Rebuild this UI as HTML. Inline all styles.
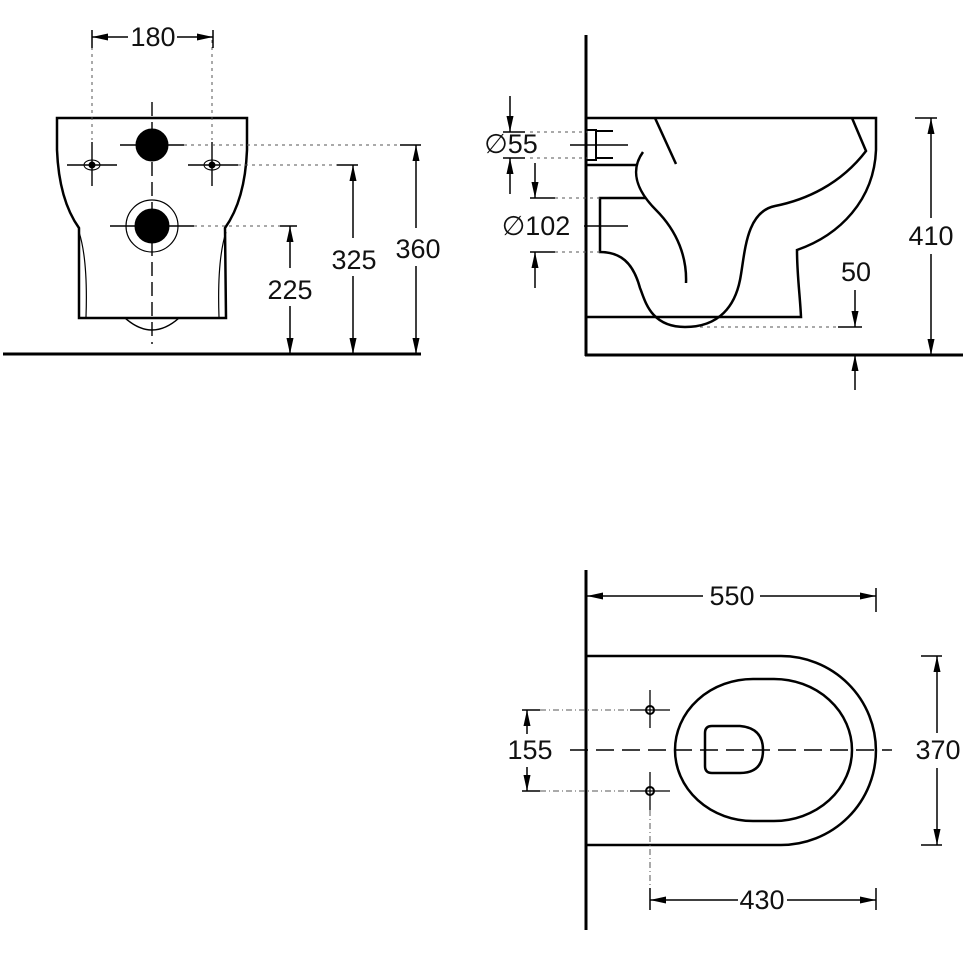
<!DOCTYPE html>
<html><head><meta charset="utf-8"><style>
html,body{margin:0;padding:0;background:#fff;}
svg{display:block;}
text{font-family:"Liberation Sans",sans-serif;font-size:27px;fill:#111;}
</style></head><body>
<svg width="967" height="967" viewBox="0 0 967 967" xmlns="http://www.w3.org/2000/svg">
<defs>
<marker id="a" viewBox="0 0 10 10" refX="10" refY="5" markerWidth="16" markerHeight="16" markerUnits="userSpaceOnUse" orient="auto-start-reverse"><path d="M0,2.8 L10,5 L0,7.2 Z" fill="#000"/></marker>
</defs>
<g fill="none" stroke="#000">
<!-- FRONT VIEW -->
<line x1="3" y1="354" x2="421" y2="354" stroke-width="3"/>
<path d="M57,118 L247,118 L247,150 Q245,200 225,228 L226,318 L79,318 L79,228 Q59,200 57,150 Z" stroke-width="2.5"/>
<path d="M79,232 Q88,260 86,317 M226,232 Q217,260 219,317" stroke-width="1.2"/>
<path d="M125,318 Q152,342 179,318" stroke-width="1.5"/>
<circle cx="152" cy="145" r="16" fill="#000"/>
<circle cx="152" cy="226" r="26" stroke-width="1.2"/>
<circle cx="152" cy="226" r="17" fill="#000"/>
<ellipse cx="92" cy="165" rx="8" ry="5" stroke-width="1"/>
<ellipse cx="212" cy="165" rx="8" ry="5" stroke-width="1"/>
<circle cx="92" cy="165" r="3" fill="#000"/>
<circle cx="212" cy="165" r="3" fill="#000"/>
<g stroke-width="1.4">
<line x1="120" y1="145" x2="184" y2="145"/>
<line x1="67" y1="165" x2="117" y2="165"/>
<line x1="188" y1="165" x2="238" y2="165"/>
<line x1="92" y1="142" x2="92" y2="186"/>
<line x1="212" y1="142" x2="212" y2="186"/>
<line x1="110" y1="226" x2="194" y2="226"/>
<line x1="152" y1="102" x2="152" y2="344" stroke-dasharray="14,6"/>
</g>
<g stroke-width="1" stroke-dasharray="3,4" stroke="#555">
<line x1="92" y1="40" x2="92" y2="140"/>
<line x1="212" y1="40" x2="212" y2="140"/>
<line x1="184" y1="145" x2="410" y2="145"/>
<line x1="238" y1="165" x2="345" y2="165"/>
<line x1="194" y1="226" x2="285" y2="226"/>
</g>
<g stroke-width="1.5">
<line x1="92" y1="30" x2="92" y2="48"/><line x1="213" y1="30" x2="213" y2="48"/>
<line x1="92" y1="37" x2="128" y2="37" marker-start="url(#a)"/>
<line x1="177" y1="37" x2="213" y2="37" marker-end="url(#a)"/>
<line x1="280" y1="226" x2="297" y2="226"/>
<line x1="290" y1="226" x2="290" y2="268" marker-start="url(#a)"/>
<line x1="290" y1="306" x2="290" y2="354" marker-end="url(#a)"/>
<line x1="337" y1="165" x2="358" y2="165"/>
<line x1="353" y1="165" x2="353" y2="238" marker-start="url(#a)"/>
<line x1="353" y1="276" x2="353" y2="354" marker-end="url(#a)"/>
<line x1="400" y1="145" x2="421" y2="145"/>
<line x1="416" y1="145" x2="416" y2="228" marker-start="url(#a)"/>
<line x1="416" y1="266" x2="416" y2="354" marker-end="url(#a)"/>
</g>
<!-- SIDE VIEW -->
<line x1="586" y1="35" x2="586" y2="356" stroke-width="3"/>
<line x1="585" y1="355" x2="963" y2="355" stroke-width="3"/>
<path d="M587,118 L876,118 L876,150 C874,200 840,235 797,250 C797,275 800,295 801,317 L587,317" stroke-width="2.5"/>
<path d="M852,118 L866,151 C840,185 805,200 775,206 C745,212 745,255 740,280 C735,305 720,327 685,327 C650,327 645,300 640,288 C633,262 620,252 600,252 L600,198 L645,198" stroke-width="2.5"/>
<path d="M643,152 C630,170 636,190 656,210 C678,232 687,258 686,283" stroke-width="2.5"/>
<path d="M587,165 L636,165" stroke-width="2.5"/>
<path d="M655,118 L676,164" stroke-width="2.5"/>
<path d="M587,130 L596,130 L596,160 L587,160" stroke-width="2"/>
<path d="M596,131 L613,131 M596,158 L613,158" stroke-width="2"/>
<g stroke-width="1.4">
<line x1="570" y1="145" x2="628" y2="145"/>
<line x1="584" y1="226" x2="628" y2="226"/>
</g>
<g stroke-width="1" stroke-dasharray="3,4" stroke="#555">
<line x1="530" y1="132" x2="587" y2="132"/>
<line x1="530" y1="158" x2="587" y2="158"/>
<line x1="555" y1="198" x2="600" y2="198"/>
<line x1="555" y1="252" x2="600" y2="252"/>
<line x1="700" y1="327" x2="840" y2="327"/>
</g>
<g stroke-width="1.5">
<line x1="503" y1="132" x2="525" y2="132"/><line x1="503" y1="158" x2="525" y2="158"/>
<line x1="510" y1="96" x2="510" y2="132" marker-end="url(#a)"/>
<line x1="510" y1="194" x2="510" y2="158" marker-end="url(#a)"/>
<line x1="530" y1="198" x2="555" y2="198"/><line x1="530" y1="252" x2="555" y2="252"/>
<line x1="535" y1="163" x2="535" y2="198" marker-end="url(#a)"/>
<line x1="535" y1="288" x2="535" y2="252" marker-end="url(#a)"/>
<line x1="838" y1="327" x2="862" y2="327"/>
<line x1="855" y1="290" x2="855" y2="327" marker-end="url(#a)"/>
<line x1="855" y1="390" x2="855" y2="355" marker-end="url(#a)"/>
<line x1="915" y1="118" x2="937" y2="118"/>
<line x1="931" y1="118" x2="931" y2="218" marker-start="url(#a)"/>
<line x1="931" y1="254" x2="931" y2="355" marker-end="url(#a)"/>
</g>
<!-- TOP VIEW -->
<line x1="586" y1="570" x2="586" y2="930" stroke-width="3"/>
<path d="M587,656 L781,656 A95,94.5 0 0 1 781,845 L587,845" stroke-width="2.5"/>
<rect x="675" y="679" width="177" height="142" rx="78" ry="71" stroke-width="2.5"/>
<path d="M712,726 L740,726 Q763,728 763,750 Q763,773 740,773 L712,773 Q705,773 705,766 L705,733 Q705,726 712,726 Z" stroke-width="2.5"/>
<line x1="570" y1="750" x2="892" y2="750" stroke-width="1.4" stroke-dasharray="18,8"/>
<circle cx="650" cy="710" r="4" stroke-width="2"/>
<circle cx="650" cy="791" r="4" stroke-width="2"/>
<g stroke-width="1.3">
<line x1="630" y1="710" x2="670" y2="710"/><line x1="650" y1="690" x2="650" y2="728"/>
<line x1="630" y1="791" x2="670" y2="791"/><line x1="650" y1="772" x2="650" y2="810"/>
</g>
<g stroke-width="1" stroke-dasharray="6,3,1,3" stroke="#555">
<line x1="527" y1="710" x2="630" y2="710"/>
<line x1="527" y1="791" x2="630" y2="791"/>
<line x1="650" y1="810" x2="650" y2="895"/>
</g>
<g stroke-width="1.5">
<line x1="522" y1="710" x2="540" y2="710"/><line x1="522" y1="791" x2="540" y2="791"/>
<line x1="527" y1="710" x2="527" y2="734" marker-start="url(#a)"/>
<line x1="527" y1="767" x2="527" y2="791" marker-end="url(#a)"/>
<line x1="921" y1="656" x2="942" y2="656"/><line x1="921" y1="845" x2="942" y2="845"/>
<line x1="937" y1="656" x2="937" y2="733" marker-start="url(#a)"/>
<line x1="937" y1="768" x2="937" y2="845" marker-end="url(#a)"/>
<line x1="876" y1="588" x2="876" y2="612"/>
<line x1="587" y1="596" x2="703" y2="596" marker-start="url(#a)"/>
<line x1="760" y1="596" x2="876" y2="596" marker-end="url(#a)"/>
<line x1="650" y1="888" x2="650" y2="910"/><line x1="876" y1="888" x2="876" y2="910"/>
<line x1="650" y1="900" x2="738" y2="900" marker-start="url(#a)"/>
<line x1="787" y1="900" x2="876" y2="900" marker-end="url(#a)"/>
</g>
</g>
<g text-anchor="middle">
<text x="153" y="46">180</text>
<text x="290" y="299">225</text>
<text x="354" y="269">325</text>
<text x="418" y="258">360</text>
<text x="511" y="153">∅55</text>
<text x="536" y="235">∅102</text>
<text x="856" y="281">50</text>
<text x="931" y="245">410</text>
<text x="732" y="605">550</text>
<text x="530" y="759">155</text>
<text x="938" y="759">370</text>
<text x="762" y="909">430</text>
</g>
</svg>
</body></html>
